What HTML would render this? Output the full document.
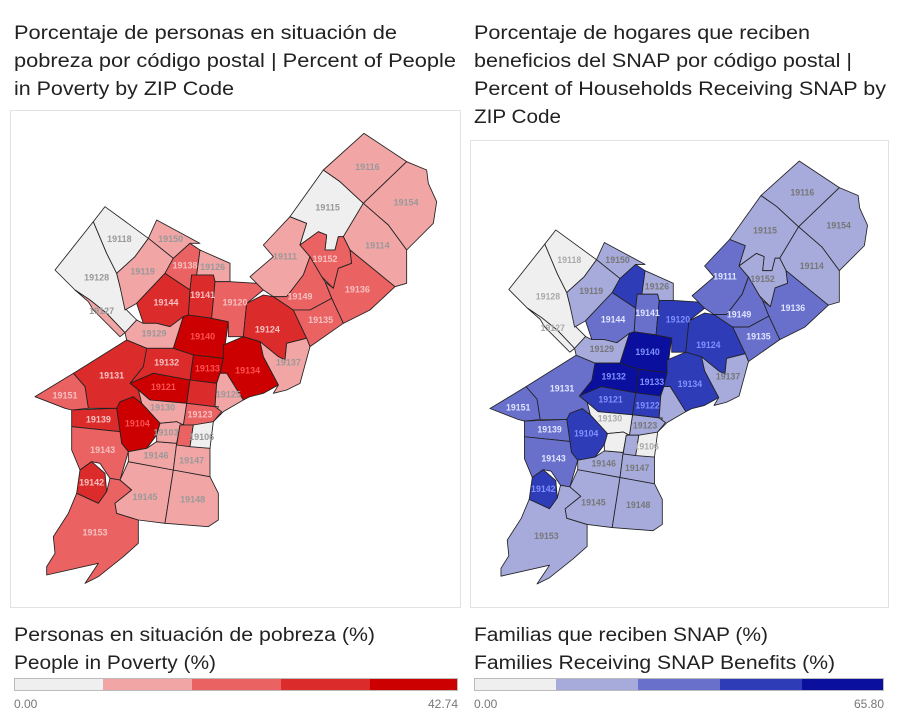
<!DOCTYPE html>
<html><head><meta charset="utf-8"><style>html,body{margin:0;padding:0;background:#fff}svg{display:block}</style></head>
<body>
<svg width="900" height="720" viewBox="0 0 900 720" xmlns="http://www.w3.org/2000/svg" font-family="Liberation Sans, sans-serif">
<defs>
<g id="shapes">
<polygon id="z19128" points="135,480 250,335 290,430 320,490 330,530 350,600 380,630 345,668 290,610 240,570 195,540"/>
<polygon id="z19127" points="195,540 240,570 290,610 345,668 330,680 250,600 235,575"/>
<polygon id="z19118" points="250,335 285,290 415,385 375,440 320,490 290,430"/>
<polygon id="z19150" points="415,385 440,330 570,400 540,400 490,445"/>
<polygon id="z19119" points="375,440 415,385 490,445 465,490 380,580 345,600 330,530 320,490"/>
<polygon id="z19138" points="490,445 540,400 570,420 560,495 545,495 540,540 465,490"/>
<polygon id="z19126" points="570,420 660,460 660,515 615,515 610,495 560,495"/>
<polygon id="z19141" points="545,495 610,495 615,515 605,625 535,615 540,540"/>
<polygon id="z19144" points="465,490 540,540 535,615 520,620 480,650 440,640 400,640 380,580"/>
<polygon id="z19129" points="345,668 380,630 400,640 440,640 480,650 520,620 490,715 410,715 350,690"/>
<polygon id="z19140" points="520,620 535,615 605,625 655,635 640,745 550,735 490,715"/>
<polygon id="z19120" points="615,515 660,515 740,520 760,540 710,580 700,680 655,680 655,635 605,625"/>
<polygon id="z19124" points="710,580 760,555 790,560 850,600 890,685 830,700 825,750 805,740 750,695 700,680"/>
<polygon id="z19111" points="760,540 720,500 790,440 760,405 840,320 890,340 870,405 900,440 880,495 830,560 790,560"/>
<polygon id="z19115" points="840,320 940,180 990,215 1060,280 1000,380 985,380 975,420 945,420 950,375 925,365 870,405 890,340"/>
<polygon id="z19116" points="940,180 1062,70 1190,155 1060,280 990,215"/>
<polygon id="z19154" points="1190,155 1250,180 1255,220 1280,275 1270,340 1190,420 1135,345 1060,280"/>
<polygon id="z19114" points="1060,280 1135,345 1190,420 1190,520 1155,530 1020,420 1000,380"/>
<polygon id="z19152" points="870,405 925,365 950,375 945,420 975,420 985,380 1000,380 1020,420 1025,460 985,475 970,535 935,500 900,440"/>
<polygon id="z19136" points="1025,460 1020,420 1155,530 1080,600 1000,640 965,565 945,515 970,535 985,475"/>
<polygon id="z19149" points="790,560 830,560 880,495 900,440 935,500 945,515 965,565 900,600 850,600"/>
<polygon id="z19135" points="850,600 900,600 965,565 1000,640 900,710 890,685"/>
<polygon id="z19137" points="750,695 805,740 825,750 830,700 890,685 900,710 870,820 830,840 790,850 805,825 760,740"/>
<polygon id="z19134" points="640,705 700,680 750,695 760,740 805,825 760,850 720,860 700,870 650,790 630,790 640,745"/>
<polygon id="z19133" points="550,735 640,745 630,790 620,820 540,810"/>
<polygon id="z19132" points="405,715 490,715 550,735 540,810 430,790 360,820 400,770"/>
<polygon id="z19121" points="360,820 430,790 540,810 530,880 420,870 385,840"/>
<polygon id="z19122" points="540,810 620,820 615,890 530,880"/>
<polygon id="z19125" points="630,790 650,790 700,870 640,905 610,935 625,890 615,890 620,820"/>
<polygon id="z19123" points="530,880 615,890 635,905 610,935 600,945 520,945"/>
<polygon id="z19130" points="385,840 420,870 530,880 520,945 500,935 450,940 395,880"/>
<polygon id="z19104" points="330,875 370,860 395,880 450,940 440,975 410,1015 355,1025 335,1000 330,965 320,895"/>
<polygon id="z19131" points="190,790 350,690 410,715 400,770 360,820 385,840 395,880 370,860 330,875 320,895 235,895 225,830"/>
<polygon id="z19151" points="75,860 190,790 225,830 235,895 185,900 165,895"/>
<polygon id="z19139" points="185,900 320,895 330,965 185,950"/>
<polygon id="z19143" points="185,950 330,965 335,1000 355,1025 330,1110 300,1105 270,1060 245,1055 210,1080 185,1020"/>
<polygon id="z19142" points="210,1080 245,1055 285,1090 290,1145 265,1180 200,1150"/>
<polygon id="z19153" points="200,1150 265,1180 290,1145 300,1105 330,1110 365,1140 315,1180 320,1210 385,1230 385,1300 340,1340 265,1400 225,1420 265,1360 110,1395 110,1370 135,1330 130,1280 175,1210"/>
<polygon id="z19145" points="330,1110 355,1055 490,1080 465,1240 385,1230 320,1210 315,1180 365,1140"/>
<polygon id="z19146" points="355,1025 410,1015 440,995 500,1000 490,1080 355,1055"/>
<polygon id="z19148" points="490,1080 600,1100 625,1150 625,1230 595,1250 465,1240"/>
<polygon id="z19147" points="500,1000 600,1010 600,1100 490,1080"/>
<polygon id="z19103" points="440,975 450,940 500,935 520,945 510,945 500,1000 440,995"/>
<polygon id="z19107" points="510,945 550,945 540,1010 500,1005"/>
<polygon id="z19106" points="550,945 610,935 600,1015 540,1010"/>
</g>
</defs>

<!-- panel borders -->
<rect x="10.5" y="110.5" width="450" height="497" fill="#fff" stroke="#e2e2e2"/>
<rect x="470.5" y="140.5" width="418" height="467" fill="#fff" stroke="#e2e2e2"/>

<!-- titles -->
<g font-size="19" fill="#222">
<text x="14" y="39" textLength="383" lengthAdjust="spacingAndGlyphs">Porcentaje de personas en situación de</text>
<text x="14" y="67" textLength="442" lengthAdjust="spacingAndGlyphs">pobreza por código postal | Percent of People</text>
<text x="14" y="95" textLength="220" lengthAdjust="spacingAndGlyphs">in Poverty by ZIP Code</text>
<text x="474" y="39" textLength="336" lengthAdjust="spacingAndGlyphs">Porcentaje de hogares que reciben</text>
<text x="474" y="67" textLength="378" lengthAdjust="spacingAndGlyphs">beneficios del SNAP por código postal |</text>
<text x="474" y="95" textLength="412" lengthAdjust="spacingAndGlyphs">Percent of Households Receiving SNAP by</text>
<text x="474" y="123" textLength="87" lengthAdjust="spacingAndGlyphs">ZIP Code</text>
<text x="14" y="641" textLength="361" lengthAdjust="spacingAndGlyphs">Personas en situación de pobreza (%)</text>
<text x="14" y="669" textLength="202" lengthAdjust="spacingAndGlyphs">People in Poverty (%)</text>
<text x="474" y="641" textLength="294" lengthAdjust="spacingAndGlyphs">Familias que reciben SNAP (%)</text>
<text x="474" y="669" textLength="361" lengthAdjust="spacingAndGlyphs">Families Receiving SNAP Benefits (%)</text>
</g>

<!-- color bars -->
<g stroke="none">
<rect x="14" y="678" width="89" height="13" fill="#efefef"/>
<rect x="103" y="678" width="89" height="13" fill="#f2a5a5"/>
<rect x="192" y="678" width="89" height="13" fill="#ea6262"/>
<rect x="281" y="678" width="89" height="13" fill="#dc2b2b"/>
<rect x="370" y="678" width="88" height="13" fill="#cc0000"/>
<rect x="474" y="678" width="82" height="13" fill="#efefef"/>
<rect x="556" y="678" width="82" height="13" fill="#a7abdc"/>
<rect x="638" y="678" width="82" height="13" fill="#6870cc"/>
<rect x="720" y="678" width="82" height="13" fill="#2e3cb8"/>
<rect x="802" y="678" width="82" height="13" fill="#0a0f9e"/>
</g>
<rect x="14.5" y="678.5" width="443" height="12" fill="none" stroke="#bbb"/>
<rect x="474.5" y="678.5" width="409" height="12" fill="none" stroke="#bbb"/>
<g font-size="12" fill="#777">
<text x="14" y="708">0.00</text>
<text x="458" y="708" text-anchor="end">42.74</text>
<text x="474" y="708">0.00</text>
<text x="884" y="708" text-anchor="end">65.80</text>
</g>

<!-- LEFT MAP -->
<g transform="translate(10,110) scale(0.33333)" stroke="#222" stroke-width="2.6" stroke-linejoin="round">
<use href="#z19128" fill="#efefef"/><use href="#z19127" fill="#f2a5a5"/><use href="#z19118" fill="#efefef"/>
<use href="#z19150" fill="#f2a5a5"/><use href="#z19119" fill="#f2a5a5"/><use href="#z19138" fill="#ea6262"/>
<use href="#z19126" fill="#f2a5a5"/><use href="#z19141" fill="#dc2b2b"/><use href="#z19144" fill="#dc2b2b"/>
<use href="#z19129" fill="#f2a5a5"/><use href="#z19140" fill="#cc0000"/><use href="#z19120" fill="#ea6262"/>
<use href="#z19124" fill="#dc2b2b"/><use href="#z19111" fill="#f2a5a5"/><use href="#z19115" fill="#efefef"/>
<use href="#z19116" fill="#f2a5a5"/><use href="#z19154" fill="#f2a5a5"/><use href="#z19114" fill="#f2a5a5"/>
<use href="#z19152" fill="#ea6262"/><use href="#z19136" fill="#ea6262"/><use href="#z19149" fill="#ea6262"/>
<use href="#z19135" fill="#ea6262"/><use href="#z19137" fill="#f2a5a5"/><use href="#z19134" fill="#cc0000"/>
<use href="#z19133" fill="#cc0000"/><use href="#z19132" fill="#dc2b2b"/><use href="#z19121" fill="#cc0000"/>
<use href="#z19122" fill="#dc2b2b"/><use href="#z19125" fill="#f2a5a5"/><use href="#z19123" fill="#ea6262"/>
<use href="#z19130" fill="#f2a5a5"/><use href="#z19104" fill="#cc0000"/><use href="#z19131" fill="#dc2b2b"/>
<use href="#z19151" fill="#ea6262"/><use href="#z19139" fill="#dc2b2b"/><use href="#z19143" fill="#ea6262"/>
<use href="#z19142" fill="#dc2b2b"/><use href="#z19153" fill="#ea6262"/><use href="#z19145" fill="#f2a5a5"/>
<use href="#z19146" fill="#f2a5a5"/><use href="#z19148" fill="#f2a5a5"/><use href="#z19147" fill="#f2a5a5"/>
<use href="#z19103" fill="#f2a5a5"/><use href="#z19107" fill="#ea6262"/><use href="#z19106" fill="#efefef"/>
<g font-size="27" font-weight="bold" text-anchor="middle" stroke="none" fill="#999">
<text x="1072" y="180">19116</text><text x="1188" y="286">19154</text><text x="953" y="302">19115</text>
<text x="1102" y="415">19114</text><text x="825" y="448">19111</text><text x="328" y="396">19118</text>
<text x="482" y="396">19150</text><text x="398" y="494">19119</text><text x="260" y="512">19128</text>
<text x="275" y="612">19127</text><text x="608" y="480">19126</text><text x="432" y="680">19129</text>
<text x="835" y="767">19137</text><text x="655" y="862">19125</text><text x="458" y="902">19130</text>
<text x="468" y="977">19103</text><text x="575" y="990">19106</text><text x="438" y="1045">19146</text>
<text x="545" y="1060">19147</text><text x="405" y="1170">19145</text><text x="548" y="1177">19148</text>
</g>
<g font-size="27" font-weight="bold" text-anchor="middle" stroke="none" fill="#f6c0c0">
<text x="945" y="456">19152</text><text x="1042" y="548">19136</text><text x="870" y="569">19149</text>
<text x="932" y="639">19135</text><text x="525" y="476">19138</text><text x="578" y="564">19141</text>
<text x="468" y="586">19144</text><text x="675" y="586">19120</text><text x="772" y="667">19124</text>
<text x="470" y="767">19132</text><text x="305" y="805">19131</text><text x="165" y="866">19151</text>
<text x="570" y="923">19123</text><text x="265" y="937">19139</text><text x="278" y="1029">19143</text>
<text x="255" y="1277">19153</text><text x="245" y="1126">19142</text>
</g>
<g font-size="27" font-weight="bold" text-anchor="middle" stroke="none" fill="#ff5050">
<text x="578" y="689">19140</text><text x="592" y="785">19133</text><text x="713" y="791">19134</text>
<text x="460" y="840">19121</text><text x="382" y="950">19104</text>
</g>
</g>

<!-- RIGHT MAP -->
<g transform="translate(466.5,139.1) scale(0.3133)" stroke="#222" stroke-width="2.7" stroke-linejoin="round">
<use href="#z19128" fill="#efefef"/><use href="#z19127" fill="#efefef"/><use href="#z19118" fill="#efefef"/>
<use href="#z19150" fill="#a7abdc"/><use href="#z19119" fill="#a7abdc"/><use href="#z19138" fill="#2e3cb8"/>
<use href="#z19126" fill="#a7abdc"/><use href="#z19141" fill="#6870cc"/><use href="#z19144" fill="#6870cc"/>
<use href="#z19129" fill="#a7abdc"/><use href="#z19140" fill="#0a0f9e"/><use href="#z19120" fill="#2e3cb8"/>
<use href="#z19124" fill="#2e3cb8"/><use href="#z19111" fill="#6870cc"/><use href="#z19115" fill="#a7abdc"/>
<use href="#z19116" fill="#a7abdc"/><use href="#z19154" fill="#a7abdc"/><use href="#z19114" fill="#a7abdc"/>
<use href="#z19152" fill="#a7abdc"/><use href="#z19136" fill="#6870cc"/><use href="#z19149" fill="#6870cc"/>
<use href="#z19135" fill="#6870cc"/><use href="#z19137" fill="#a7abdc"/><use href="#z19134" fill="#2e3cb8"/>
<use href="#z19133" fill="#0a0f9e"/><use href="#z19132" fill="#0a0f9e"/><use href="#z19121" fill="#2e3cb8"/>
<use href="#z19122" fill="#2e3cb8"/><use href="#z19125" fill="#a7abdc"/><use href="#z19123" fill="#a7abdc"/>
<use href="#z19130" fill="#efefef"/><use href="#z19104" fill="#2e3cb8"/><use href="#z19131" fill="#6870cc"/>
<use href="#z19151" fill="#6870cc"/><use href="#z19139" fill="#6870cc"/><use href="#z19143" fill="#6870cc"/>
<use href="#z19142" fill="#2e3cb8"/><use href="#z19153" fill="#a7abdc"/><use href="#z19145" fill="#a7abdc"/>
<use href="#z19146" fill="#a7abdc"/><use href="#z19148" fill="#a7abdc"/><use href="#z19147" fill="#a7abdc"/>
<use href="#z19103" fill="#efefef"/><use href="#z19107" fill="#a7abdc"/><use href="#z19106" fill="#efefef"/>
<g font-size="28" font-weight="bold" text-anchor="middle" stroke="none" fill="#777">
<text x="1072" y="180">19116</text><text x="1188" y="286">19154</text><text x="953" y="302">19115</text>
<text x="1102" y="415">19114</text><text x="945" y="456">19152</text>
<text x="482" y="396">19150</text><text x="398" y="494">19119</text>
<text x="608" y="480">19126</text><text x="432" y="680">19129</text>
<text x="835" y="767">19137</text><text x="570" y="923">19123</text><text x="438" y="1045">19146</text>
<text x="545" y="1060">19147</text><text x="405" y="1170">19145</text><text x="548" y="1177">19148</text>
<text x="255" y="1277">19153</text>
</g>
<g font-size="28" font-weight="bold" text-anchor="middle" stroke="none" fill="#aaa">
<text x="328" y="396">19118</text><text x="260" y="512">19128</text><text x="275" y="612">19127</text>
<text x="458" y="902">19130</text><text x="575" y="990">19106</text>
</g>
<g font-size="28" font-weight="bold" text-anchor="middle" stroke="none" fill="#e0e4ff">
<text x="825" y="448">19111</text><text x="1042" y="548">19136</text><text x="870" y="569">19149</text>
<text x="932" y="639">19135</text><text x="578" y="564">19141</text><text x="468" y="586">19144</text>
<text x="305" y="805">19131</text><text x="165" y="866">19151</text><text x="265" y="937">19139</text>
<text x="278" y="1029">19143</text>
</g>
<g font-size="28" font-weight="bold" text-anchor="middle" stroke="none" fill="#8090ff">
<text x="675" y="586">19120</text><text x="772" y="667">19124</text><text x="578" y="689">19140</text>
<text x="470" y="767">19132</text><text x="592" y="785">19133</text><text x="713" y="791">19134</text>
<text x="460" y="840">19121</text><text x="578" y="860">19122</text><text x="382" y="950">19104</text>
<text x="245" y="1126">19142</text>
</g>
</g>
</svg>
</body></html>
